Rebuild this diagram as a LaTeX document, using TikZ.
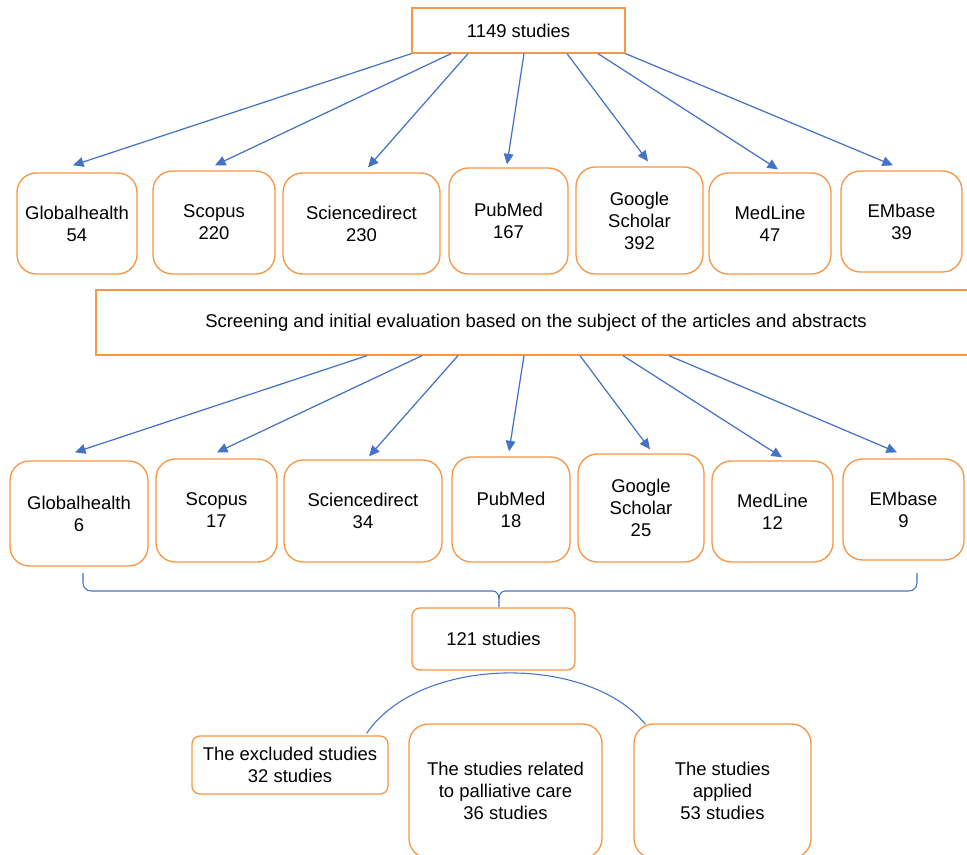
\documentclass[tikz,border=0pt]{standalone}
\usepackage{fontspec}
\setmainfont{Liberation Sans}
\usetikzlibrary{arrows.meta}
\definecolor{boxorange}{RGB}{247,150,70}
\definecolor{arrowblue}{RGB}{68,114,196}
\begin{document}
\begin{tikzpicture}[
  x=0.02cm, y=-0.02cm,
  db/.style={draw=boxorange, line width=0.75pt, rounded corners=11pt, align=center,
             font=\fontsize{10.5}{12.5}\selectfont, inner sep=0pt},
  sq/.style={db, sharp corners},
  sm/.style={db, rounded corners=4.5pt},
  dim/.style 2 args={minimum width=#1cm, minimum height=#2cm},
  flow/.style={-{Triangle[length=6pt,width=5.5pt]}, draw=arrowblue, line width=0.7pt},
  link/.style={draw=arrowblue, line width=0.6pt}
]
\path[use as bounding box, fill=white] (0,0) rectangle (967,855);

\node[sq,dim={4.26}{0.9}] (top) at (518.5,30.5) {1149 studies};

\node[db,dim={2.4}{2.02}]  (gh1) at (77,223.5)   {Globalhealth\\54};
\node[db,dim={2.44}{2.06}] (sc1) at (214,222.5)  {Scopus\\220};
\node[db,dim={3.14}{2.02}] (sd1) at (361.5,223.5) {Sciencedirect\\230};
\node[db,dim={2.38}{2.12}] (pm1) at (508.5,221)  {PubMed\\167};
\node[db,dim={2.54}{2.14}] (gs1) at (639.5,220.5) {Google\\Scholar\\392};
\node[db,dim={2.44}{2.02}] (ml1) at (770,223.5)  {MedLine\\47};
\node[db,dim={2.42}{2.02}] (em1) at (901.5,221.5) {EMbase\\39};

\node[sq,dim={17.6}{1.3}] (screen) at (536,322.5)
  {Screening and initial evaluation based on the subject of the articles and abstracts};

\node[db,dim={2.76}{2.1}]  (gh2) at (79,513.5)   {Globalhealth\\6};
\node[db,dim={2.42}{2.06}] (sc2) at (216.5,510.5) {Scopus\\17};
\node[db,dim={3.16}{2.04}] (sd2) at (363,511)    {Sciencedirect\\34};
\node[db,dim={2.36}{2.1}]  (pm2) at (511,509.5)  {PubMed\\18};
\node[db,dim={2.52}{2.16}] (gs2) at (641,508)    {Google\\Scholar\\25};
\node[db,dim={2.42}{2.02}] (ml2) at (772.5,511.5) {MedLine\\12};
\node[db,dim={2.42}{2.02}] (em2) at (903.5,509.5) {EMbase\\9};

\node[sm,dim={3.26}{1.24}] (total) at (493.5,639) {121 studies};
\node[sm,dim={3.92}{1.16}] (excl) at (290,765) {The excluded studies\\32 studies};
\node[db,dim={3.86}{2.68}] (pall) at (505.5,791) {The studies related\\to palliative care\\36 studies};
\node[db,dim={3.54}{2.68}] (appl) at (722.5,791) {The studies\\applied\\53 studies};

\draw[flow] (top.south west) -- ([shift={(-4,-7)}]gh1.north);
\draw[flow] ([shift={(-67.5,0)}]top.south) -- ([shift={(1,-5)}]sc1.north);
\draw[flow] ([shift={(-50.5,0)}]top.south) -- ([shift={(6.5,-5)}]sd1.north);
\draw[flow] ([shift={(5.5,0)}]top.south) -- ([shift={(-1.5,-3)}]pm1.north);
\draw[flow] ([shift={(48.5,0)}]top.south) -- ([shift={(8.5,-5)}]gs1.north);
\draw[flow] ([shift={(79.5,0)}]top.south) -- ([shift={(8,-3)}]ml1.north);
\draw[flow] (top.south east) -- ([shift={(-8.5,-5)}]em1.north);

\draw[flow] ([shift={(-169,0)}]screen.south) -- ([shift={(-4,-8)}]gh2.north);
\draw[flow] ([shift={(-114,0)}]screen.south) -- ([shift={(0.5,-6)}]sc2.north);
\draw[flow] ([shift={(-78,0)}]screen.south) -- ([shift={(6,-3)}]sd2.north);
\draw[flow] ([shift={(-12,0)}]screen.south) -- ([shift={(-2,-5)}]pm2.north);
\draw[flow] ([shift={(44,0)}]screen.south) -- ([shift={(9,-4)}]gs2.north);
\draw[flow] ([shift={(87,0)}]screen.south) -- ([shift={(9.5,-3)}]ml2.north);
\draw[flow] ([shift={(133,0)}]screen.south) -- ([shift={(-6.5,-6)}]em2.north);

\coordinate (bl) at (83,573);
\coordinate (br) at (917,573);
\coordinate (tip) at (499,607);
\draw[link] (bl) -- (83,583) to[out=-90,in=180] (91,591) -- (493,591)
  to[out=0,in=90] (tip.center |- 0,599) -- (tip);
\draw[link] (br) -- (917,583) to[out=-90,in=0] (909,591) -- (505,591)
  to[out=180,in=90] (499,599);

\draw[link] ([shift={(-22,-2)}]excl.north east) .. controls +(54,-79) and +(-56,-70) .. ([shift={(12,1)}]appl.north west);
\end{tikzpicture}
\end{document}
